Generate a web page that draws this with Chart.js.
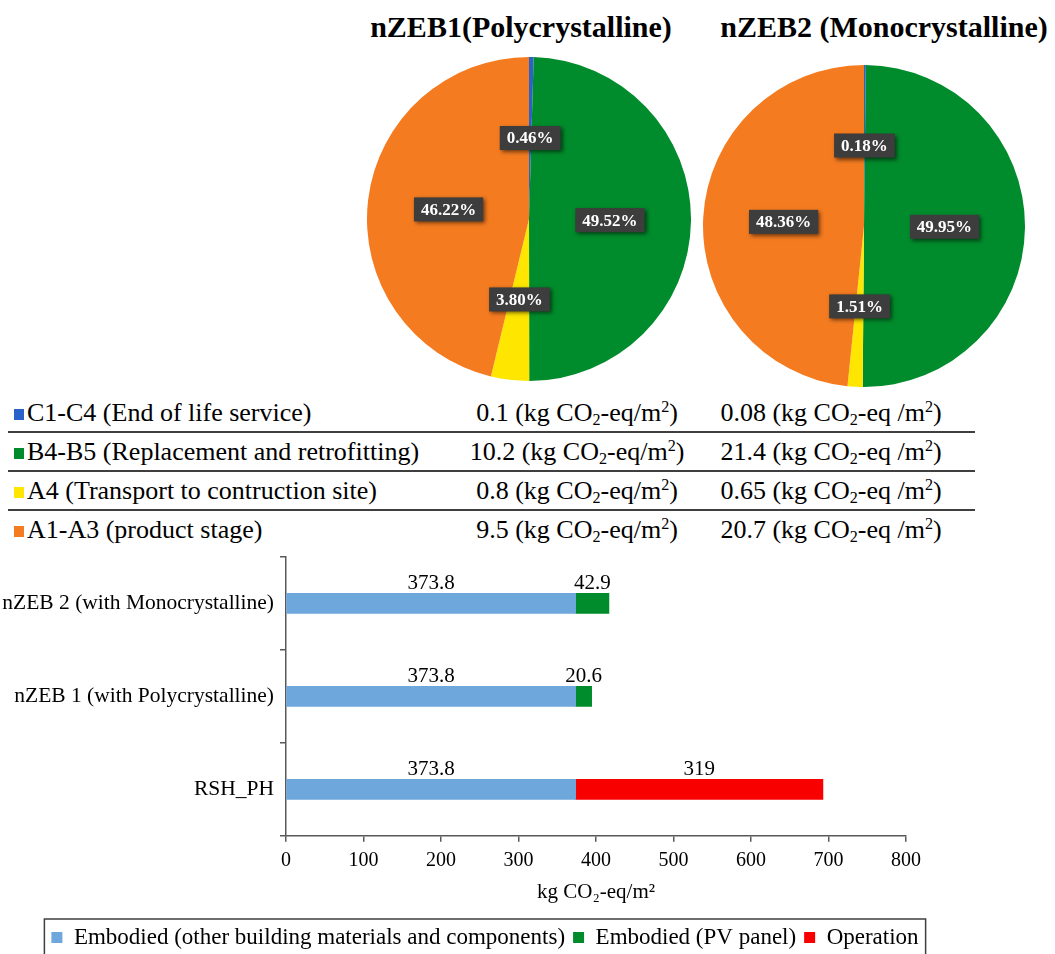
<!DOCTYPE html>
<html>
<head>
<meta charset="utf-8">
<script src="https://cdn.jsdelivr.net/npm/chart.js@4.4.1/dist/chart.umd.min.js"></script>
<style>
  html, body { margin: 0; padding: 0; background: #fff; }
  body { width: 1055px; height: 954px; position: relative; overflow: hidden; font-family: 'Liberation Serif', 'Times New Roman', serif; color: #000; }
  .ptitle { position: absolute; top: 12px; font-weight: bold; font-size: 30px; line-height: 30px; white-space: nowrap; transform: translateX(-50%); }
  #tbl { position: absolute; left: 8px; top: 394px; width: 967px; }
  .row { display: flex; height: 37px; align-items: center; border-bottom: 2px solid #3f3f3f; font-size: 26px; line-height: 26px; white-space: nowrap; }
  .row:last-child { border-bottom: none; }
  .c1 { width: 440px; padding-left: 6px; box-sizing: border-box; }
  .c2 { width: 258px; text-align: center; }
  .c3 { width: 250px; text-align: center; }
  .sq { display: inline-block; width: 10px; height: 11px; margin-right: 3px; vertical-align: 1px; }
  sub, sup { font-size: 0.62em; line-height: 0; }
  sub { vertical-align: -0.25em; }
  sup { vertical-align: 0.55em; }
  canvas { position: absolute; }
</style>
</head>
<body>
<div class="ptitle" id="t1" style="left:521px;"></div>
<div class="ptitle" id="t2" style="left:884px;"></div>
<canvas id="pie1" width="324" height="324" style="left:367px; top:57px;"></canvas>
<canvas id="pie2" width="322" height="322" style="left:703px; top:65px;"></canvas>
<div id="tbl"></div>
<canvas id="bar" width="970" height="421" style="left:0px; top:538px;"></canvas>
<script>
// ---------- DATA ----------
const pieTitles = ['nZEB1(Polycrystalline)', 'nZEB2 (Monocrystalline)'];
const stages = ['C1-C4 (End of life service)', 'B4-B5 (Replacement and retrofitting)', 'A4 (Transport to contruction site)', 'A1-A3 (product stage)'];
const stageColors = ['#2a62c9', '#008c2c', '#ffe600', '#f47b20'];
const nzeb1Share = [0.46, 49.52, 3.80, 46.22];
const nzeb2Share = [0.18, 49.95, 1.51, 48.36];
const nzeb1Abs = ['0.1', '10.2', '0.8', '9.5'];
const nzeb2Abs = ['0.08', '21.4', '0.65', '20.7'];

const barCategories = ['nZEB 2 (with Monocrystalline)', 'nZEB 1 (with Polycrystalline)', 'RSH_PH'];
const embodiedOther = [373.8, 373.8, 373.8];
const embodiedPV = [42.9, 20.6, null];
const operation = [null, null, 319];
const seriesNames = ['Embodied (other building materials and components)', 'Embodied (PV panel)', 'Operation'];
const seriesColors = ['#6da7db', '#008c2c', '#f80000'];
const xMin = 0, xMax = 800, xStep = 100;
const xTitle = 'kg CO\u2082-eq/m\u00b2';

const SERIF = "'Liberation Serif', 'Times New Roman', serif";

// ---------- titles ----------
document.getElementById('t1').textContent = pieTitles[0];
document.getElementById('t2').textContent = pieTitles[1];

// ---------- table ----------
const tbl = document.getElementById('tbl');
stages.forEach((s, i) => {
  const r = document.createElement('div');
  r.className = 'row';
  r.innerHTML = '<div class="c1"><span class="sq" style="background:' + stageColors[i] + '"></span>' + s + '</div>' +
    '<div class="c2">' + nzeb1Abs[i] + ' (kg CO<sub>2</sub>-eq/m<sup>2</sup>)</div>' +
    '<div class="c3">' + nzeb2Abs[i] + ' (kg CO<sub>2</sub>-eq /m<sup>2</sup>)</div>';
  tbl.appendChild(r);
});

// ---------- pie label plugin ----------
const pieLabels = {
  id: 'pieLabels',
  afterDatasetsDraw(chart) {
    const ctx = chart.ctx;
    const meta = chart.getDatasetMeta(0);
    const data = chart.data.datasets[0].data;
    ctx.save();
    ctx.font = 'bold 17px ' + SERIF;
    meta.data.forEach((arc, i) => {
      const p = arc.tooltipPosition();
      const txt = data[i].toFixed(2) + '%';
      const w = ctx.measureText(txt).width + 14;
      const h = 24;
      ctx.save();
      ctx.shadowColor = 'rgba(0,0,0,0.55)';
      ctx.shadowBlur = 4;
      ctx.shadowOffsetX = 2;
      ctx.shadowOffsetY = 2;
      ctx.fillStyle = '#3d3d3d';
      ctx.fillRect(p.x - w / 2, p.y - h / 2, w, h);
      ctx.restore();
      ctx.fillStyle = '#ffffff';
      ctx.textAlign = 'center';
      ctx.textBaseline = 'middle';
      ctx.fillText(txt, p.x, p.y + 1);
    });
    ctx.restore();
  }
};

function makePie(id, values) {
  new Chart(document.getElementById(id), {
    type: 'pie',
    data: {
      labels: stages,
      datasets: [{ data: values, backgroundColor: stageColors, borderWidth: 0 }]
    },
    options: {
      responsive: false,
      animation: false,
      layout: { padding: 0 },
      plugins: { legend: { display: false }, tooltip: { enabled: false } }
    },
    plugins: [pieLabels]
  });
}
makePie('pie1', nzeb1Share);
makePie('pie2', nzeb2Share);

// ---------- bar chart ----------
const barLabels = {
  id: 'barLabels',
  afterDatasetsDraw(chart) {
    const ctx = chart.ctx;
    ctx.save();
    ctx.font = '21px ' + SERIF;
    ctx.fillStyle = '#000';
    ctx.textAlign = 'center';
    ctx.textBaseline = 'alphabetic';
    chart.data.datasets.forEach((ds, di) => {
      const meta = chart.getDatasetMeta(di);
      meta.data.forEach((bar, i) => {
        const v = ds.data[i];
        if (v === null || v === undefined) return;
        const cx = (bar.x + bar.base) / 2;
        const top = bar.y - bar.height / 2;
        ctx.fillText(String(v), cx, top - 4);
      });
    });
    ctx.restore();
  }
};

const legendBox = {
  id: 'legendBox',
  afterDraw(chart) {
    const lg = chart.legend;
    if (!lg || !lg.legendHitBoxes || !lg.legendHitBoxes.length) return;
    const hb = lg.legendHitBoxes;
    let l = Infinity, r = -Infinity;
    hb.forEach(b => { l = Math.min(l, b.left); r = Math.max(r, b.left + b.width); });
    const ctx = chart.ctx;
    ctx.save();
    ctx.strokeStyle = '#3f3f3f';
    ctx.lineWidth = 1.5;
    ctx.strokeRect(l - 7, lg.top + 1, (r - l) + 14, chart.height);
    ctx.restore();
  }
};

const axisColor = '#595959';
new Chart(document.getElementById('bar'), {
  type: 'bar',
  data: {
    labels: barCategories,
    datasets: [
      { label: seriesNames[0], data: embodiedOther, backgroundColor: seriesColors[0], borderWidth: 0, barThickness: 20 },
      { label: seriesNames[1], data: embodiedPV, backgroundColor: seriesColors[1], borderWidth: 0, barThickness: 20 },
      { label: seriesNames[2], data: operation, backgroundColor: seriesColors[2], borderWidth: 0, barThickness: 20 }
    ]
  },
  options: {
    indexAxis: 'y',
    responsive: false,
    animation: false,
    layout: { padding: { top: 8, left: 0, right: 0, bottom: 0 } },
    scales: {
      x: {
        stacked: true, min: xMin, max: xMax,
        ticks: { stepSize: xStep, color: '#000', font: { family: SERIF, size: 20 }, padding: 7 },
        grid: { drawOnChartArea: false, drawTicks: true, tickLength: 6, color: axisColor, lineWidth: 1.5 },
        border: { color: axisColor, width: 1.5 },
        title: { display: true, text: xTitle, color: '#000', font: { family: SERIF, size: 21 }, padding: { top: 0, bottom: 13 } }
      },
      y: {
        stacked: true,
        ticks: { color: '#000', font: { family: SERIF, size: 21.5 }, padding: 6 },
        grid: { drawOnChartArea: false, drawTicks: true, tickLength: 6, color: axisColor, lineWidth: 1.5 },
        border: { color: axisColor, width: 1.5 },
        afterFit(scale) { scale.width = 286; }
      },
      yRightSpace: {
        type: 'category', position: 'right', labels: barCategories,
        ticks: { display: false }, grid: { display: false }, border: { display: false },
        afterFit(scale) { scale.width = 64; }
      }
    },
    plugins: {
      legend: {
        position: 'bottom',
        labels: { boxWidth: 11, boxHeight: 11, color: '#000', font: { family: SERIF, size: 23 }, padding: 8 }
      },
      tooltip: { enabled: false }
    }
  },
  plugins: [barLabels, legendBox]
});
</script>
</body>
</html>
